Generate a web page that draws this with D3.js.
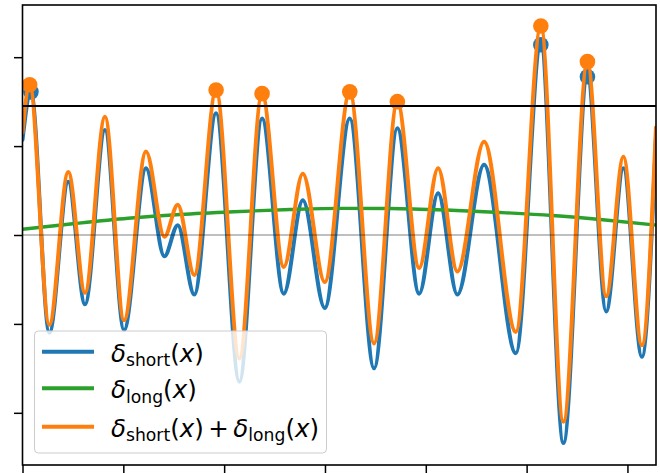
<!DOCTYPE html>
<html>
<head>
<meta charset="utf-8">
<script src="https://cdn.jsdelivr.net/npm/d3@7"></script>
<style>
  html, body { margin: 0; padding: 0; background: #fff; }
  svg { display: block; }
</style>
</head>
<body>
<div id="chart"></div>
<script>
// short-scale signal, read at its turning points
const shortX = [0, 0.084, 0.266, 0.454, 0.620, 0.818, 1.007, 1.225, 1.407, 1.540, 1.704, 1.920,
  2.151, 2.376, 2.591, 2.780, 2.998, 3.246, 3.487, 3.718, 3.934, 4.122, 4.313, 4.578,
  4.893, 5.141, 5.365, 5.603, 5.789, 5.960, 6.143, 6.283];
const shortY = [1.07, 1.61, -1.10, 0.60, -0.78, 1.18, -1.07, 0.75, -0.24, 0.11, -0.67, 1.37,
  -1.65, 1.31, -0.66, 0.39, -0.82, 1.31, -1.50, 1.20, -0.66, 0.47, -0.67, 0.79,
  -1.33, 2.14, -2.34, 1.78, -0.86, 0.75, -1.37, 1.10];

// long-scale trend
const longX = [0, 0.521, 1.047, 1.563, 2.098, 2.654, 3.150, 3.646, 4.201, 4.737, 5.253, 5.779, 6.283];
const longY = [0.064, 0.129, 0.188, 0.231, 0.262, 0.287, 0.300, 0.298, 0.281, 0.253, 0.219, 0.169, 0.112];

// combined signal
const sumX = [0, 0.071, 0.266, 0.454, 0.620, 0.818, 1.007, 1.225, 1.407, 1.540, 1.704, 1.920,
  2.151, 2.376, 2.591, 2.780, 2.998, 3.246, 3.487, 3.718, 3.934, 4.122, 4.313, 4.578,
  4.893, 5.141, 5.365, 5.603, 5.789, 5.960, 6.143, 6.283];
const sumY = [1.15, 1.69, -1.01, 0.71, -0.65, 1.33, -0.96, 0.94, -0.02, 0.34, -0.45, 1.63,
  -1.39, 1.59, -0.36, 0.69, -0.53, 1.61, -1.22, 1.50, -0.37, 0.75, -0.41, 1.05,
  -1.09, 2.35, -2.10, 1.95, -0.69, 0.88, -1.24, 1.21];

const threshold = 1.45;
const xTicks = [0, 1, 2, 3, 4, 5, 6];
const yTicks = [-2, -1, 0, 1, 2];

const seriesNames = [
  [{ t: 'δ', it: true }, { t: 'short', sub: true }, { t: '(' }, { t: 'x', it: true }, { t: ')' }],
  [{ t: 'δ', it: true }, { t: 'long', sub: true }, { t: '(' }, { t: 'x', it: true }, { t: ')' }],
  [{ t: 'δ', it: true }, { t: 'short', sub: true }, { t: '(' }, { t: 'x', it: true }, { t: ')' },
   { t: '+', dx: 4.5 }, { t: 'δ', it: true, dx: 4.5 }, { t: 'long', sub: true }, { t: '(' }, { t: 'x', it: true }, { t: ')' }]
];
const colors = ['#1f77b4', '#2ca02c', '#ff7f0e'];

const width = 660;
const height = 473;
const margin = { top: 5, right: 4, bottom: 8, left: 22.5 };

const svg = d3.select('#chart')
  .append('svg')
  .attr('width', width)
  .attr('height', height);

const x = d3.scaleLinear()
  .domain([0, 2 * Math.PI])
  .range([margin.left, width - margin.right]);

const y = d3.scaleLinear()
  .domain([-2.587, 2.587])
  .range([height - margin.bottom, margin.top]);

const zip = (xs, ys) => xs.map((v, i) => [v, ys[i]]);
const line = d3.line()
  .x(d => x(d[0]))
  .y(d => y(d[1]))
  .curve(d3.curveMonotoneX);

svg.append('defs').append('clipPath').attr('id', 'clip')
  .append('rect')
  .attr('x', margin.left).attr('y', margin.top)
  .attr('width', x.range()[1] - margin.left)
  .attr('height', y.range()[0] - margin.top);

const plot = svg.append('g').attr('clip-path', 'url(#clip)');

function peaks(pts) {
  return pts.filter((p, i) => i > 0 && i < pts.length - 1 &&
    p[1] > pts[i - 1][1] && p[1] > pts[i + 1][1] && p[1] > threshold);
}

function drawSeries(pts, color, lw, withDots) {
  plot.append('path')
    .datum(pts)
    .attr('fill', 'none')
    .attr('stroke', color)
    .attr('stroke-width', lw)
    .attr('stroke-linejoin', 'round')
    .attr('stroke-linecap', 'round')
    .attr('d', line);
  if (!withDots) return;
  plot.append('g')
    .selectAll('circle')
    .data(peaks(pts))
    .enter().append('circle')
    .attr('cx', d => x(d[0]))
    .attr('cy', d => y(d[1]))
    .attr('r', 7.8)
    .attr('fill', color);
}

drawSeries(zip(shortX, shortY), colors[0], 4, true);
drawSeries(zip(longX, longY), colors[1], 3.4, false);
drawSeries(zip(sumX, sumY), colors[2], 4, true);

// reference lines
plot.append('line')
  .attr('x1', x.range()[0]).attr('x2', x.range()[1])
  .attr('y1', y(0)).attr('y2', y(0))
  .attr('stroke', 'rgba(0,0,0,0.25)')
  .attr('stroke-width', 2);

plot.append('line')
  .attr('x1', x.range()[0]).attr('x2', x.range()[1])
  .attr('y1', y(threshold)).attr('y2', y(threshold))
  .attr('stroke', '#000')
  .attr('stroke-width', 2);

// axes (tick labels fall outside the cropped view)
const xAxis = svg.append('g')
  .attr('transform', `translate(0,${y.range()[0]})`)
  .call(d3.axisBottom(x).tickValues(xTicks).tickFormat('').tickSize(9).tickSizeOuter(0));
const yAxis = svg.append('g')
  .attr('transform', `translate(${margin.left},0)`)
  .call(d3.axisLeft(y).tickValues(yTicks).tickFormat('').tickSize(8.5).tickSizeOuter(0));
[xAxis, yAxis].forEach(a => {
  a.select('.domain').remove();
  a.selectAll('line').attr('stroke', '#000').attr('stroke-width', 1.5);
});

svg.append('rect')
  .attr('x', x.range()[0]).attr('y', y.range()[1])
  .attr('width', x.range()[1] - x.range()[0])
  .attr('height', y.range()[0] - y.range()[1])
  .attr('fill', 'none')
  .attr('stroke', '#000')
  .attr('stroke-width', 1.6);

// legend
const legend = svg.append('g');
legend.append('rect')
  .attr('x', 34.5).attr('y', 331)
  .attr('width', 292).attr('height', 122)
  .attr('rx', 4)
  .attr('fill', 'rgba(255,255,255,0.8)')
  .attr('stroke', '#cccccc')
  .attr('stroke-width', 1);

const rowY = [351.7, 388.3, 426.7];
seriesNames.forEach((parts, i) => {
  legend.append('line')
    .attr('x1', 42).attr('x2', 94)
    .attr('y1', rowY[i]).attr('y2', rowY[i])
    .attr('stroke', colors[i])
    .attr('stroke-width', 4);

  const txt = legend.append('text')
    .attr('x', 111)
    .attr('y', rowY[i] + 10)
    .style('font-family', "'DejaVu Sans', sans-serif")
    .style('font-size', '24.5px')
    .attr('fill', '#000');

  let shifted = false;
  parts.forEach(p => {
    const ts = txt.append('tspan').text(p.t);
    let dy = 0;
    if (p.sub && !shifted) { dy = 4.5; shifted = true; }
    if (!p.sub && shifted) { dy = -4.5; shifted = false; }
    if (dy) ts.attr('dy', dy);
    if (p.dx) ts.attr('dx', p.dx);
    if (p.sub) ts.style('font-size', '17.2px');
    if (p.it) ts.style('font-style', 'italic');
  });
});
</script>
</body>
</html>
